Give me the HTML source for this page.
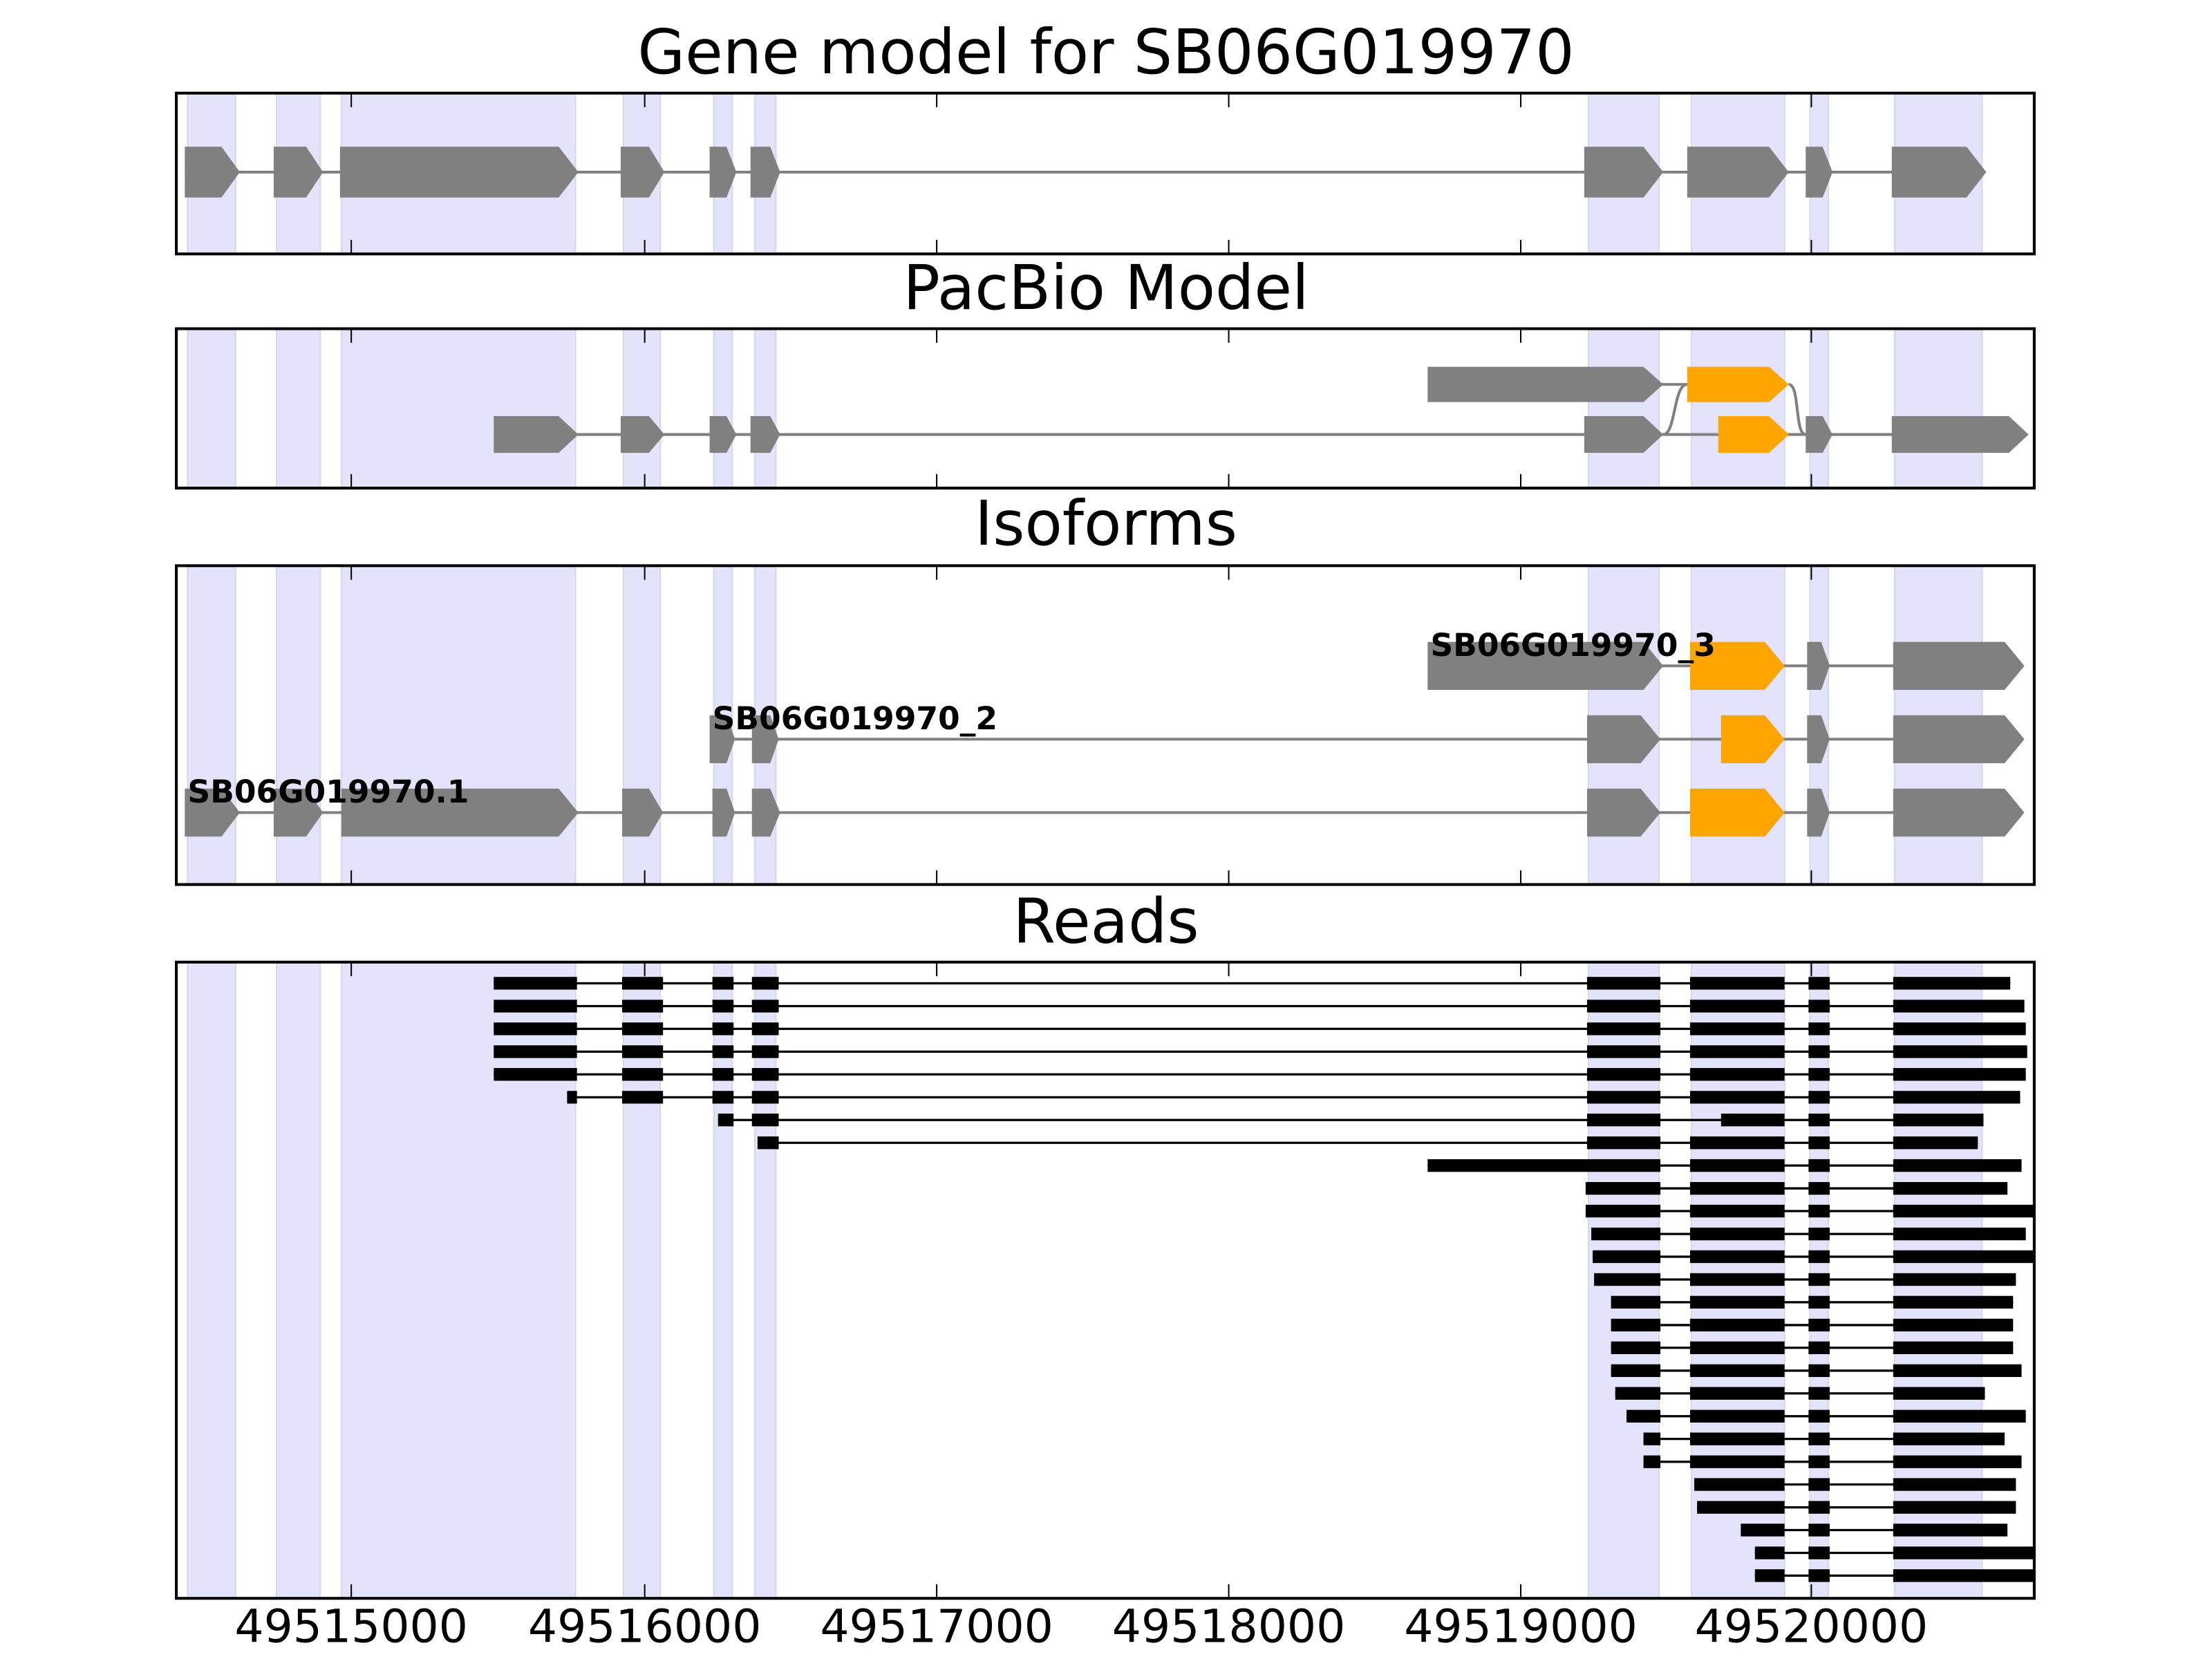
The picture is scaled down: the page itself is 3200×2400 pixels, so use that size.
<!DOCTYPE html>
<html><head><meta charset="utf-8"><style>html,body{margin:0;padding:0;background:#fff}svg{display:block}</style></head>
<body>
<svg xmlns="http://www.w3.org/2000/svg" width="3200" height="2400" viewBox="0 0 1568 1176" font-family="DejaVu Sans, Liberation Sans, sans-serif">
<defs>
<clipPath id="c1"><rect x="125" y="66" width="1317" height="114"/></clipPath>
<clipPath id="c2"><rect x="125" y="233" width="1317" height="113"/></clipPath>
<clipPath id="c3"><rect x="125" y="401" width="1317" height="226"/></clipPath>
<clipPath id="c4"><rect x="125" y="682" width="1317" height="451"/></clipPath>
<g id="bands" fill="#e3e3fb" stroke="#d6d6ee" stroke-width="1">
<rect x="133" y="0" width="34" height="1200"/><rect x="196" y="0" width="31" height="1200"/>
<rect x="242" y="0" width="166" height="1200"/><rect x="442" y="0" width="26" height="1200"/>
<rect x="506" y="0" width="13" height="1200"/><rect x="535" y="0" width="15" height="1200"/>
<rect x="1126" y="0" width="50" height="1200"/><rect x="1199" y="0" width="66" height="1200"/>
<rect x="1283" y="0" width="13" height="1200"/><rect x="1343" y="0" width="62" height="1200"/>
</g>
</defs>
<rect width="1568" height="1176" fill="#fff"/>

<g font-size="43.5" text-anchor="middle" fill="#000">
<text x="784" y="52">Gene model for SB06G019970</text>
<text x="784" y="219">PacBio Model</text>
<text x="784" y="386">Isoforms</text>
<text x="784" y="668">Reads</text>
</g>

<!-- Panel 1 -->
<g clip-path="url(#c1)">
<use href="#bands"/>
<line x1="131" y1="122" x2="1400" y2="122" stroke="#808080" stroke-width="2"/>
<g fill="#808080">
<polygon points="131,104 157,104 170,122 157,140 131,140"/>
<polygon points="194,104 217,104 229,122 217,140 194,140"/>
<polygon points="241,104 396,104 410,122 396,140 241,140"/>
<polygon points="440,104 460,104 471,122 460,140 440,140"/>
<polygon points="503,104 515,104 522,122 515,140 503,140"/>
<polygon points="532,104 546,104 553,122 546,140 532,140"/>
<polygon points="1123,104 1165,104 1179,122 1165,140 1123,140"/>
<polygon points="1196,104 1254,104 1268,122 1254,140 1196,140"/>
<polygon points="1280,104 1292,104 1299,122 1292,140 1280,140"/>
<polygon points="1341,104 1394,104 1408,122 1394,140 1341,140"/>
</g>
</g>

<!-- Panel 2 -->
<g clip-path="url(#c2)">
<use href="#bands"/>
<g stroke="#808080" stroke-width="2" fill="none">
<line x1="400" y1="308" x2="1345" y2="308"/>
<line x1="1170" y1="272.5" x2="1200" y2="272.5"/>
<path d="M1179,308 C1188,308 1186,272.5 1196,272.5"/>
<path d="M1268,272.5 C1276,272.5 1272,308 1280,308"/>
</g>
<g fill="#808080">
<polygon points="1012,260 1165,260 1179,272.5 1165,285 1012,285"/>
<polygon points="350,295 396,295 410,308 396,321 350,321"/>
<polygon points="440,295 460,295 471,308 460,321 440,321"/>
<polygon points="503,295 515,295 522,308 515,321 503,321"/>
<polygon points="532,295 546,295 553,308 546,321 532,321"/>
<polygon points="1123,295 1165,295 1179,308 1165,321 1123,321"/>
<polygon points="1280,295 1292,295 1299,308 1292,321 1280,321"/>
<polygon points="1341,295 1424,295 1438,308 1424,321 1341,321"/>
</g>
<g fill="#ffa500">
<polygon points="1196,260 1254,260 1268,272.5 1254,285 1196,285"/>
<polygon points="1218,295 1254,295 1268,308 1254,321 1218,321"/>
</g>
</g>

<!-- Panel 3 -->
<g clip-path="url(#c3)">
<use href="#bands"/>
<g stroke="#808080" stroke-width="2">
<line x1="1170" y1="472" x2="1345" y2="472"/>
<line x1="515" y1="524" x2="1345" y2="524"/>
<line x1="150" y1="576" x2="1345" y2="576"/>
</g>
<g fill="#808080">
<polygon points="1012,455 1165,455 1179,472 1165,489 1012,489"/>
<polygon points="1281,455 1291,455 1297,472 1291,489 1281,489"/>
<polygon points="1342,455 1421,455 1435,472 1421,489 1342,489"/>

<polygon points="503,507 515,507 521,524 515,541 503,541"/>
<polygon points="533,507 546,507 552,524 546,541 533,541"/>
<polygon points="1125,507 1163,507 1177,524 1163,541 1125,541"/>
<polygon points="1281,507 1291,507 1297,524 1291,541 1281,541"/>
<polygon points="1342,507 1421,507 1435,524 1421,541 1342,541"/>

<polygon points="131,559 157,559 170,576 157,593 131,593"/>
<polygon points="194,559 217,559 229,576 217,593 194,593"/>
<polygon points="242,559 396,559 410,576 396,593 242,593"/>
<polygon points="441,559 460,559 470,576 460,593 441,593"/>
<polygon points="505,559 515,559 521,576 515,593 505,593"/>
<polygon points="533,559 546,559 553,576 546,593 533,593"/>
<polygon points="1125,559 1163,559 1177,576 1163,593 1125,593"/>
<polygon points="1281,559 1291,559 1297,576 1291,593 1281,593"/>
<polygon points="1342,559 1421,559 1435,576 1421,593 1342,593"/>
</g>
<g fill="#ffa500">
<polygon points="1198,455 1251,455 1265,472 1251,489 1198,489"/>
<polygon points="1220,507 1251,507 1265,524 1251,541 1220,541"/>
<polygon points="1198,559 1251,559 1265,576 1251,593 1198,593"/>
</g>
<g font-size="22.3" font-weight="bold" fill="#000">
<text x="1014" y="465">SB06G019970_3</text>
<text x="505" y="517">SB06G019970_2</text>
<text x="133" y="569">SB06G019970.1</text>
</g>
</g>

<!-- Panel 4 reads -->
<g clip-path="url(#c4)">
<use href="#bands"/>
<g fill="#000" stroke="#000">
<g transform="translate(0,697)"><line x1="350" x2="1425" y1="0" y2="0" stroke-width="1.6"/><g stroke="none"><rect x="350" y="-4.5" width="59" height="9"/><rect x="441" y="-4.5" width="29" height="9"/><rect x="505" y="-4.5" width="15" height="9"/><rect x="533" y="-4.5" width="19" height="9"/><rect x="1125" y="-4.5" width="52" height="9"/><rect x="1198" y="-4.5" width="67" height="9"/><rect x="1282" y="-4.5" width="15" height="9"/><rect x="1342" y="-4.5" width="83" height="9"/></g></g>
<g transform="translate(0,713.2)"><line x1="350" x2="1435" y1="0" y2="0" stroke-width="1.6"/><g stroke="none"><rect x="350" y="-4.5" width="59" height="9"/><rect x="441" y="-4.5" width="29" height="9"/><rect x="505" y="-4.5" width="15" height="9"/><rect x="533" y="-4.5" width="19" height="9"/><rect x="1125" y="-4.5" width="52" height="9"/><rect x="1198" y="-4.5" width="67" height="9"/><rect x="1282" y="-4.5" width="15" height="9"/><rect x="1342" y="-4.5" width="93" height="9"/></g></g>
<g transform="translate(0,729.3)"><line x1="350" x2="1436" y1="0" y2="0" stroke-width="1.6"/><g stroke="none"><rect x="350" y="-4.5" width="59" height="9"/><rect x="441" y="-4.5" width="29" height="9"/><rect x="505" y="-4.5" width="15" height="9"/><rect x="533" y="-4.5" width="19" height="9"/><rect x="1125" y="-4.5" width="52" height="9"/><rect x="1198" y="-4.5" width="67" height="9"/><rect x="1282" y="-4.5" width="15" height="9"/><rect x="1342" y="-4.5" width="94" height="9"/></g></g>
<g transform="translate(0,745.5)"><line x1="350" x2="1437" y1="0" y2="0" stroke-width="1.6"/><g stroke="none"><rect x="350" y="-4.5" width="59" height="9"/><rect x="441" y="-4.5" width="29" height="9"/><rect x="505" y="-4.5" width="15" height="9"/><rect x="533" y="-4.5" width="19" height="9"/><rect x="1125" y="-4.5" width="52" height="9"/><rect x="1198" y="-4.5" width="67" height="9"/><rect x="1282" y="-4.5" width="15" height="9"/><rect x="1342" y="-4.5" width="95" height="9"/></g></g>
<g transform="translate(0,761.6)"><line x1="350" x2="1436" y1="0" y2="0" stroke-width="1.6"/><g stroke="none"><rect x="350" y="-4.5" width="59" height="9"/><rect x="441" y="-4.5" width="29" height="9"/><rect x="505" y="-4.5" width="15" height="9"/><rect x="533" y="-4.5" width="19" height="9"/><rect x="1125" y="-4.5" width="52" height="9"/><rect x="1198" y="-4.5" width="67" height="9"/><rect x="1282" y="-4.5" width="15" height="9"/><rect x="1342" y="-4.5" width="94" height="9"/></g></g>
<g transform="translate(0,777.8)"><line x1="402" x2="1432" y1="0" y2="0" stroke-width="1.6"/><g stroke="none"><rect x="402" y="-4.5" width="7" height="9"/><rect x="441" y="-4.5" width="29" height="9"/><rect x="505" y="-4.5" width="15" height="9"/><rect x="533" y="-4.5" width="19" height="9"/><rect x="1125" y="-4.5" width="52" height="9"/><rect x="1198" y="-4.5" width="67" height="9"/><rect x="1282" y="-4.5" width="15" height="9"/><rect x="1342" y="-4.5" width="90" height="9"/></g></g>
<g transform="translate(0,793.9)"><line x1="509" x2="1406" y1="0" y2="0" stroke-width="1.6"/><g stroke="none"><rect x="509" y="-4.5" width="11" height="9"/><rect x="533" y="-4.5" width="19" height="9"/><rect x="1125" y="-4.5" width="52" height="9"/><rect x="1220" y="-4.5" width="45" height="9"/><rect x="1282" y="-4.5" width="15" height="9"/><rect x="1342" y="-4.5" width="64" height="9"/></g></g>
<g transform="translate(0,810.1)"><line x1="537" x2="1402" y1="0" y2="0" stroke-width="1.6"/><g stroke="none"><rect x="537" y="-4.5" width="15" height="9"/><rect x="1125" y="-4.5" width="52" height="9"/><rect x="1198" y="-4.5" width="67" height="9"/><rect x="1282" y="-4.5" width="15" height="9"/><rect x="1342" y="-4.5" width="60" height="9"/></g></g>
<g transform="translate(0,826.2)"><line x1="1012" x2="1433" y1="0" y2="0" stroke-width="1.6"/><g stroke="none"><rect x="1012" y="-4.5" width="165" height="9"/><rect x="1198" y="-4.5" width="67" height="9"/><rect x="1282" y="-4.5" width="15" height="9"/><rect x="1342" y="-4.5" width="91" height="9"/></g></g>
<g transform="translate(0,842.4)"><line x1="1124" x2="1423" y1="0" y2="0" stroke-width="1.6"/><g stroke="none"><rect x="1124" y="-4.5" width="53" height="9"/><rect x="1198" y="-4.5" width="67" height="9"/><rect x="1282" y="-4.5" width="15" height="9"/><rect x="1342" y="-4.5" width="81" height="9"/></g></g>
<g transform="translate(0,858.5)"><line x1="1124" x2="1450" y1="0" y2="0" stroke-width="1.6"/><g stroke="none"><rect x="1124" y="-4.5" width="53" height="9"/><rect x="1198" y="-4.5" width="67" height="9"/><rect x="1282" y="-4.5" width="15" height="9"/><rect x="1342" y="-4.5" width="108" height="9"/></g></g>
<g transform="translate(0,874.7)"><line x1="1128" x2="1436" y1="0" y2="0" stroke-width="1.6"/><g stroke="none"><rect x="1128" y="-4.5" width="49" height="9"/><rect x="1198" y="-4.5" width="67" height="9"/><rect x="1282" y="-4.5" width="15" height="9"/><rect x="1342" y="-4.5" width="94" height="9"/></g></g>
<g transform="translate(0,890.8)"><line x1="1129" x2="1450" y1="0" y2="0" stroke-width="1.6"/><g stroke="none"><rect x="1129" y="-4.5" width="48" height="9"/><rect x="1198" y="-4.5" width="67" height="9"/><rect x="1282" y="-4.5" width="15" height="9"/><rect x="1342" y="-4.5" width="108" height="9"/></g></g>
<g transform="translate(0,907)"><line x1="1130" x2="1429" y1="0" y2="0" stroke-width="1.6"/><g stroke="none"><rect x="1130" y="-4.5" width="47" height="9"/><rect x="1198" y="-4.5" width="67" height="9"/><rect x="1282" y="-4.5" width="15" height="9"/><rect x="1342" y="-4.5" width="87" height="9"/></g></g>
<g transform="translate(0,923.1)"><line x1="1142" x2="1427" y1="0" y2="0" stroke-width="1.6"/><g stroke="none"><rect x="1142" y="-4.5" width="35" height="9"/><rect x="1198" y="-4.5" width="67" height="9"/><rect x="1282" y="-4.5" width="15" height="9"/><rect x="1342" y="-4.5" width="85" height="9"/></g></g>
<g transform="translate(0,939.3)"><line x1="1142" x2="1427" y1="0" y2="0" stroke-width="1.6"/><g stroke="none"><rect x="1142" y="-4.5" width="35" height="9"/><rect x="1198" y="-4.5" width="67" height="9"/><rect x="1282" y="-4.5" width="15" height="9"/><rect x="1342" y="-4.5" width="85" height="9"/></g></g>
<g transform="translate(0,955.4)"><line x1="1142" x2="1427" y1="0" y2="0" stroke-width="1.6"/><g stroke="none"><rect x="1142" y="-4.5" width="35" height="9"/><rect x="1198" y="-4.5" width="67" height="9"/><rect x="1282" y="-4.5" width="15" height="9"/><rect x="1342" y="-4.5" width="85" height="9"/></g></g>
<g transform="translate(0,971.6)"><line x1="1142" x2="1433" y1="0" y2="0" stroke-width="1.6"/><g stroke="none"><rect x="1142" y="-4.5" width="35" height="9"/><rect x="1198" y="-4.5" width="67" height="9"/><rect x="1282" y="-4.5" width="15" height="9"/><rect x="1342" y="-4.5" width="91" height="9"/></g></g>
<g transform="translate(0,987.7)"><line x1="1145" x2="1407" y1="0" y2="0" stroke-width="1.6"/><g stroke="none"><rect x="1145" y="-4.5" width="32" height="9"/><rect x="1198" y="-4.5" width="67" height="9"/><rect x="1282" y="-4.5" width="15" height="9"/><rect x="1342" y="-4.5" width="65" height="9"/></g></g>
<g transform="translate(0,1003.9)"><line x1="1153" x2="1436" y1="0" y2="0" stroke-width="1.6"/><g stroke="none"><rect x="1153" y="-4.5" width="24" height="9"/><rect x="1198" y="-4.5" width="67" height="9"/><rect x="1282" y="-4.5" width="15" height="9"/><rect x="1342" y="-4.5" width="94" height="9"/></g></g>
<g transform="translate(0,1020)"><line x1="1165" x2="1421" y1="0" y2="0" stroke-width="1.6"/><g stroke="none"><rect x="1165" y="-4.5" width="12" height="9"/><rect x="1198" y="-4.5" width="67" height="9"/><rect x="1282" y="-4.5" width="15" height="9"/><rect x="1342" y="-4.5" width="79" height="9"/></g></g>
<g transform="translate(0,1036.2)"><line x1="1165" x2="1433" y1="0" y2="0" stroke-width="1.6"/><g stroke="none"><rect x="1165" y="-4.5" width="12" height="9"/><rect x="1198" y="-4.5" width="67" height="9"/><rect x="1282" y="-4.5" width="15" height="9"/><rect x="1342" y="-4.5" width="91" height="9"/></g></g>
<g transform="translate(0,1052.3)"><line x1="1201" x2="1429" y1="0" y2="0" stroke-width="1.6"/><g stroke="none"><rect x="1201" y="-4.5" width="64" height="9"/><rect x="1282" y="-4.5" width="15" height="9"/><rect x="1342" y="-4.5" width="87" height="9"/></g></g>
<g transform="translate(0,1068.5)"><line x1="1203" x2="1429" y1="0" y2="0" stroke-width="1.6"/><g stroke="none"><rect x="1203" y="-4.5" width="62" height="9"/><rect x="1282" y="-4.5" width="15" height="9"/><rect x="1342" y="-4.5" width="87" height="9"/></g></g>
<g transform="translate(0,1084.6)"><line x1="1234" x2="1423" y1="0" y2="0" stroke-width="1.6"/><g stroke="none"><rect x="1234" y="-4.5" width="31" height="9"/><rect x="1282" y="-4.5" width="15" height="9"/><rect x="1342" y="-4.5" width="81" height="9"/></g></g>
<g transform="translate(0,1100.8)"><line x1="1244" x2="1450" y1="0" y2="0" stroke-width="1.6"/><g stroke="none"><rect x="1244" y="-4.5" width="21" height="9"/><rect x="1282" y="-4.5" width="15" height="9"/><rect x="1342" y="-4.5" width="108" height="9"/></g></g>
<g transform="translate(0,1116.9)"><line x1="1244" x2="1450" y1="0" y2="0" stroke-width="1.6"/><g stroke="none"><rect x="1244" y="-4.5" width="21" height="9"/><rect x="1282" y="-4.5" width="15" height="9"/><rect x="1342" y="-4.5" width="108" height="9"/></g></g>
</g>
</g>

<!-- frames and ticks -->
<g fill="none" stroke="#000" stroke-width="2">
<rect x="125" y="66" width="1317" height="114"/>
<rect x="125" y="233" width="1317" height="113"/>
<rect x="125" y="401" width="1317" height="226"/>
<rect x="125" y="682" width="1317" height="451"/>
</g>
<g stroke="#000" stroke-width="1">
<path d="M249,66v10M457,66v10M664,66v10M871,66v10M1078,66v10M1284,66v10 M249,180v-10M457,180v-10M664,180v-10M871,180v-10M1078,180v-10M1284,180v-10"/>
<path d="M249,233v10M457,233v10M664,233v10M871,233v10M1078,233v10M1284,233v10 M249,346v-10M457,346v-10M664,346v-10M871,346v-10M1078,346v-10M1284,346v-10"/>
<path d="M249,401v10M457,401v10M664,401v10M871,401v10M1078,401v10M1284,401v10 M249,627v-10M457,627v-10M664,627v-10M871,627v-10M1078,627v-10M1284,627v-10"/>
<path d="M249,682v10M457,682v10M664,682v10M871,682v10M1078,682v10M1284,682v10 M249,1133v-10M457,1133v-10M664,1133v-10M871,1133v-10M1078,1133v-10M1284,1133v-10"/>
</g>
<g font-size="32.5" text-anchor="middle" fill="#000">
<text x="249" y="1164">49515000</text>
<text x="457" y="1164">49516000</text>
<text x="664" y="1164">49517000</text>
<text x="871" y="1164">49518000</text>
<text x="1078" y="1164">49519000</text>
<text x="1284" y="1164">49520000</text>
</g>
</svg>
</body></html>
